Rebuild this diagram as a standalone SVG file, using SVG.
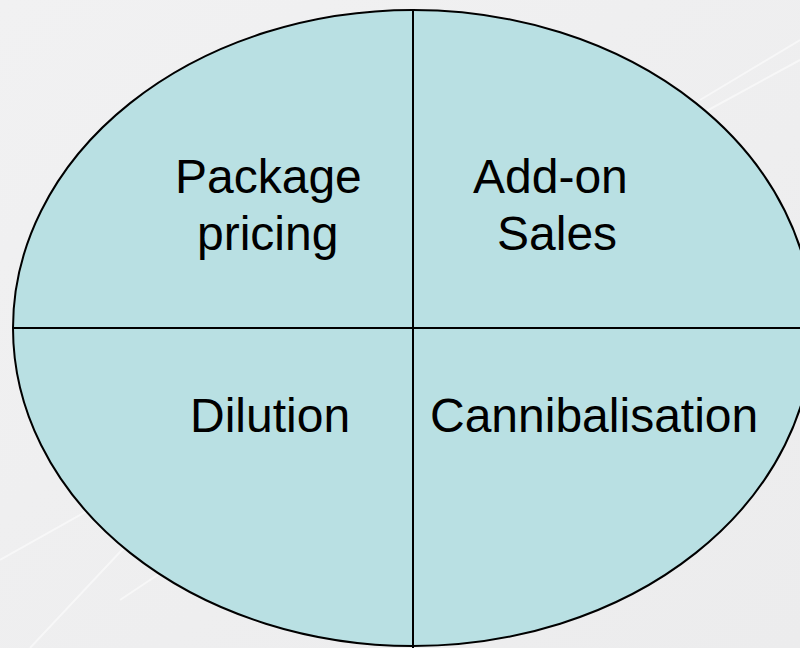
<svg xmlns="http://www.w3.org/2000/svg" width="800" height="648" viewBox="0 0 800 648">
  <defs>
    <linearGradient id="bg" x1="0" y1="0" x2="1" y2="1">
      <stop offset="0" stop-color="#F1F1F2"/>
      <stop offset="1" stop-color="#ECECED"/>
    </linearGradient>
  </defs>
  <style>
    .quad { fill: #B9E0E3; }
    .edge { fill: none; stroke: #000; stroke-width: 2; }
    .label { font-family: "Liberation Sans", Arial, sans-serif; font-size: 48px; fill: #000; }
    .tex { stroke: #FFFFFF; stroke-opacity: 0.5; stroke-width: 2; fill: none; }
  </style>

  <!-- backdrop -->
  <rect x="0" y="0" width="800" height="648" fill="url(#bg)"/>
  <g id="texture">
    <path class="tex" d="M0 560 L160 470 M30 648 L150 520 M120 600 L240 520 M700 100 L800 40 M690 120 L800 60"/>
  </g>

  <!-- quadrant ellipse -->
  <g id="ellipse">
    <ellipse class="quad" cx="413" cy="328" rx="400" ry="318"/>
  </g>

  <g id="dividers">
    <line class="edge" x1="413" y1="10" x2="413" y2="648"/>
    <line class="edge" x1="13" y1="328" x2="800" y2="328"/>
  </g>

  <g id="ellipse-outline">
    <ellipse class="edge" cx="413" cy="328" rx="400" ry="318"/>
  </g>

  <g id="package-pricing">
    <text class="label" x="175" y="193">Package</text>
    <text class="label" x="197" y="250">pricing</text>
  </g>

  <g id="add-on-sales">
    <text class="label" x="473" y="193">Add-on</text>
    <text class="label" x="497" y="250">Sales</text>
  </g>

  <g id="dilution">
    <text class="label" x="190" y="432">Dilution</text>
  </g>

  <g id="cannibalisation">
    <text class="label" x="430" y="432">Cannibalisation</text>
  </g>
</svg>
